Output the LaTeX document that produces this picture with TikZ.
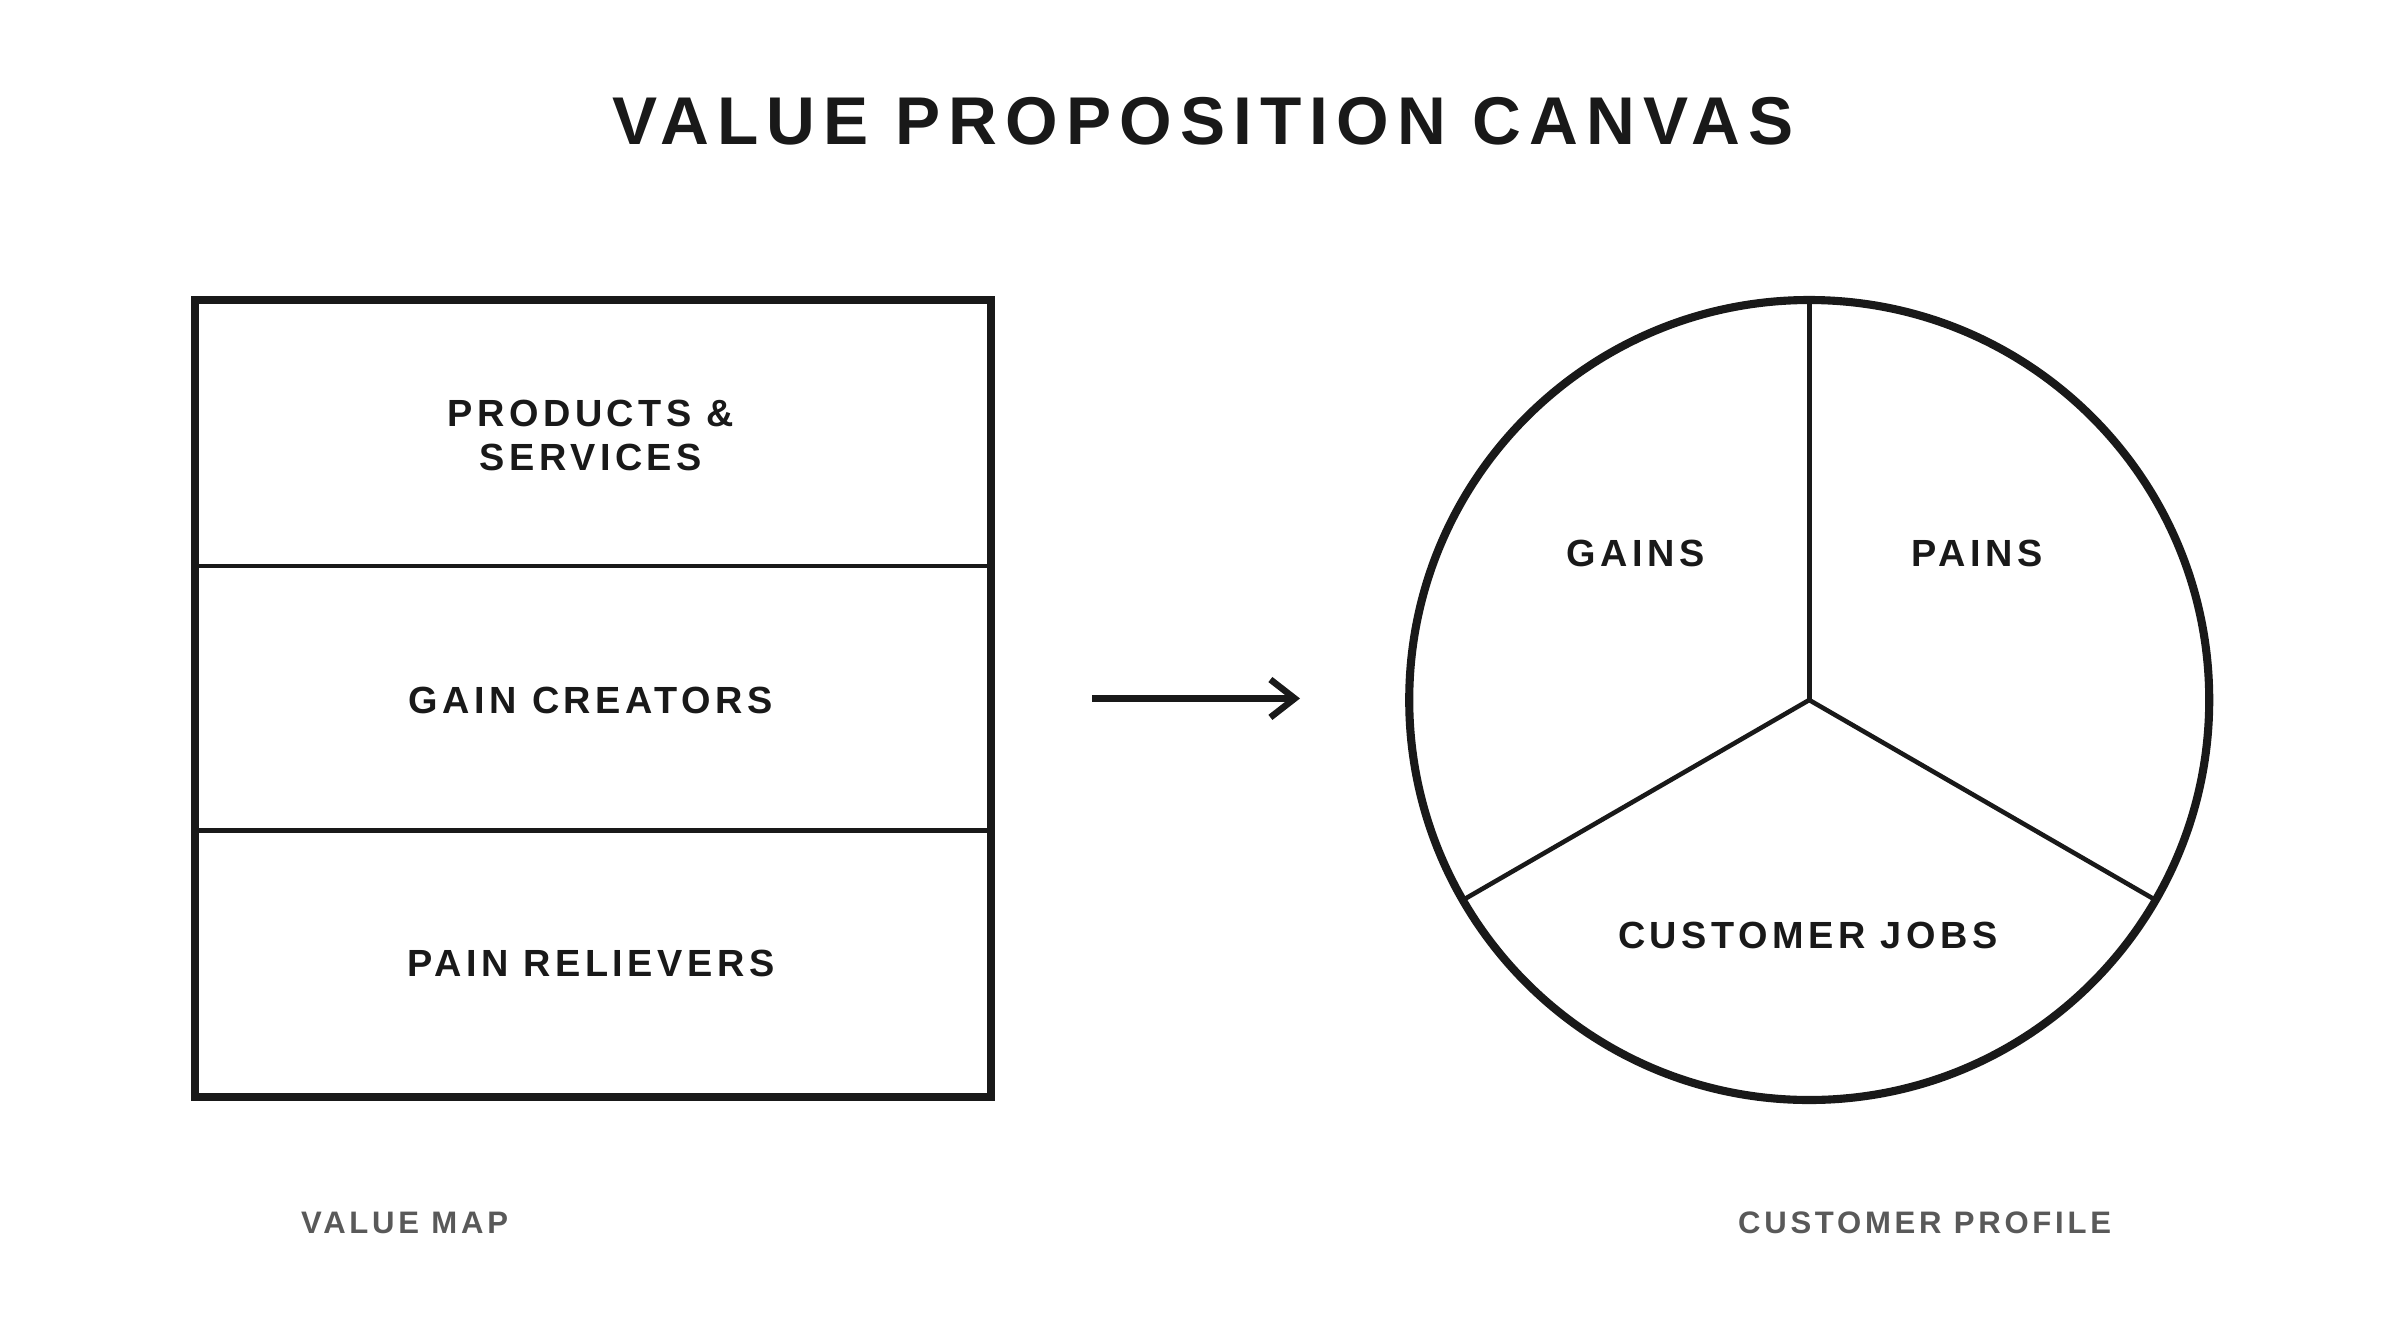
\documentclass[tikz,border=0pt]{standalone}
\usepackage{fontspec}
\setmainfont{Liberation Sans}
\newfontfamily\spaced[LetterSpace=12]{Liberation Sans}
\usetikzlibrary{arrows.meta}
\begin{document}
\begin{tikzpicture}[x=0.02cm,y=-0.02cm,
  lbl/.style={font=\spaced\bfseries\fontsize{14}{17}\selectfont,align=center,text=black!90},
  foot/.style={font=\spaced\bfseries\fontsize{11.5}{14}\selectfont,text=black!65},
  thin/.style={line width=1.7pt,draw=black!90},
  thick/.style={line width=3pt,draw=black!90}]
\useasboundingbox (0,0) rectangle (1560,864.5);
\node[font=\spaced\bfseries\fontsize{25}{30}\selectfont,text=black!90] (title) at (782,79) {VALUE PROPOSITION CANVAS};
% value map
\coordinate (l1) at (127,368); \coordinate (r1) at (644,368);
\coordinate (l2) at (127,540); \coordinate (r2) at (644,540);
\draw[thin] (l1) -- (r1);
\draw[thin] (l2) -- (r2);
\draw[thick] (127,195) rectangle (644,713);
\node[lbl] (ps) at (384,283) {PRODUCTS \&\\[-1pt]SERVICES};
\node[lbl] (gc) at (384,455) {GAIN CREATORS};
\node[lbl] (pr) at (384,626) {PAIN RELIEVERS};
% arrow
\coordinate (a1) at (710,454); \coordinate (a2) at (845,454);
\draw[line width=2.4pt,draw=black!90,-{Straight Barb[length=9pt,width=14pt,line width=2.4pt]}] (a1) -- (a2);
% customer profile
\coordinate (c) at (1176,455);
\coordinate (top) at (1176,195);
\coordinate (bl) at (951.8,584.5);
\coordinate (br) at (1400.2,584.5);
\draw[thin] (c) -- (top);
\draw[thin] (c) -- (bl);
\draw[thin] (c) -- (br);
\draw[thick] (c) circle (260);
\node[lbl] (gains) at (1063,360) {GAINS};
\node[lbl] (pains) at (1285,360) {PAINS};
\node[lbl] (jobs) at (1175,608) {CUSTOMER JOBS};
\node[foot] (vm) at (263,795) {VALUE MAP};
\node[foot] (cp) at (1251,795) {CUSTOMER PROFILE};
\end{tikzpicture}
\end{document}
